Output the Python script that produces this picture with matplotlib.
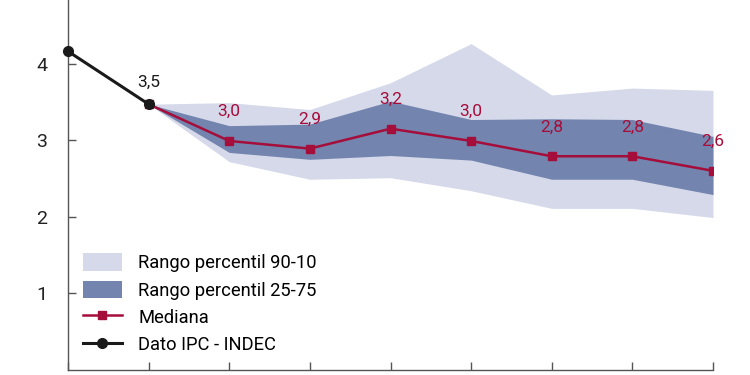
import matplotlib
matplotlib.use("Agg")
import matplotlib.pyplot as plt

plt.rcParams['font.family'] = ['Roboto', 'DejaVu Sans']

# data
ipc_x = [0, 1]
ipc_y = [4.16, 3.47]
x = [1, 2, 3, 4, 5, 6, 7, 8]
mediana = [3.47, 2.99, 2.89, 3.15, 2.99, 2.79, 2.79, 2.60]
p25 = [3.47, 2.84, 2.75, 2.80, 2.74, 2.49, 2.49, 2.29]
p75 = [3.47, 3.19, 3.21, 3.51, 3.27, 3.28, 3.27, 3.05]
p10 = [3.47, 2.72, 2.49, 2.51, 2.34, 2.11, 2.11, 1.99]
p90 = [3.47, 3.49, 3.40, 3.75, 4.26, 3.59, 3.68, 3.65]
med_labels = ["", "3,0", "2,9", "3,2", "3,0", "2,8", "2,8", "2,6"]
ipc_label = "3,5"

light = "#d5d9ea"
dark = "#7385ae"
red = "#a50d3a"
black = "#1a1a1a"

fig = plt.figure(figsize=(7.5, 3.75), dpi=100)
ax = fig.add_axes([68/750, 5/375, (713-68)/750, 370/375])

ax.fill_between(x, p10, p90, color=light, lw=0, label="Rango percentil 90-10")
ax.fill_between(x, p25, p75, color=dark, lw=0, label="Rango percentil 25-75")
ax.plot(x, mediana, color=red, lw=1.8, marker="s", ms=5.5, label="Mediana")
ax.plot(ipc_x, ipc_y, color=black, lw=2.2, marker="o", ms=7, label="Dato IPC - INDEC", clip_on=False, zorder=5)

for xi, yi, lab in zip(x, mediana, med_labels):
    if lab:
        ax.annotate(lab, (xi, yi), xytext=(0, 21), textcoords="offset points",
                    ha="center", va="center", color=red, fontsize=12.5)
ax.annotate(ipc_label, (ipc_x[1], ipc_y[1]), xytext=(0, 15.5), textcoords="offset points",
            ha="center", va="center", color=black, fontsize=12.5)

ax.set_xlim(0, 8)
ax.set_ylim(0, 4.83)
ax.set_xticks(range(0, 9))
ax.set_xticklabels([])
ax.set_yticks([1, 2, 3, 4])
ax.tick_params(axis="both", direction="in", length=6, width=1, color="#555555",
               labelsize=14, labelcolor="#222222", pad=15)
for s in ["top", "right"]:
    ax.spines[s].set_visible(False)
for s in ["left", "bottom"]:
    ax.spines[s].set_color("#555555")
    ax.spines[s].set_linewidth(1)

ax.legend(loc="upper left", bbox_to_anchor=(0.012, 0.335), frameon=False, fontsize=13.2,
          handlelength=2.1, handleheight=1.1, labelspacing=0.45, handletextpad=0.9,
          borderaxespad=0)

fig.savefig("out.png", dpi=100)
